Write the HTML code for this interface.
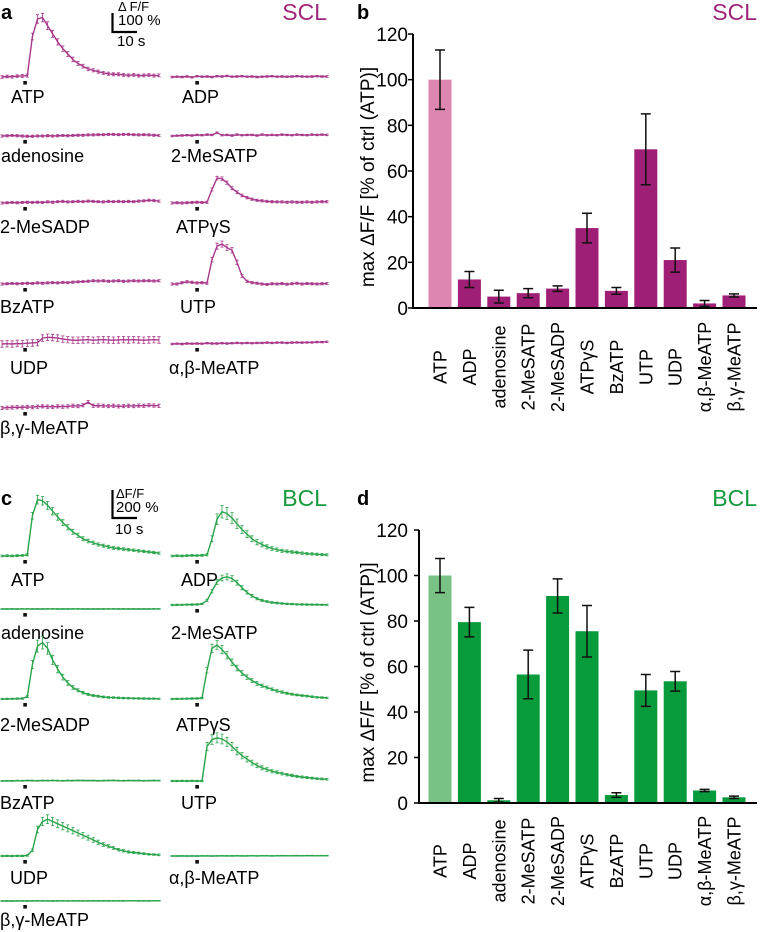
<!DOCTYPE html>
<html><head><meta charset="utf-8">
<style>
html,body{margin:0;padding:0;background:#fff;}
svg{display:block;font-family:"Liberation Sans",sans-serif;}
</style></head>
<body>
<svg id="fig" width="761" height="932" viewBox="0 0 761 932" xmlns="http://www.w3.org/2000/svg">
<!-- Panel a -->
<g>
<text x="1" y="19" font-size="20" font-weight="bold">a</text>
<text x="327" y="20" font-size="23" fill="#a0267b" text-anchor="end">SCL</text>
<g>
<path d="M112.5 13 V32 H137" stroke="#000" stroke-width="2.2" fill="none"/>
<text x="118" y="11" font-size="13">Δ F/F</text>
<text x="118" y="25" font-size="15">100 %</text>
<text x="117" y="46" font-size="15">10 s</text>
</g>
<g font-size="18">
<text x="11" y="103">ATP</text>
<text x="182" y="103">ADP</text>
<text x="1" y="162">adenosine</text>
<text x="171" y="162">2-MeSATP</text>
<text x="0" y="233">2-MeSADP</text>
<text x="176" y="233">ATPγS</text>
<text x="0" y="313">BzATP</text>
<text x="180" y="313">UTP</text>
<text x="10" y="374">UDP</text>
<text x="169" y="374">α,β-MeATP</text>
<text x="0" y="434">β,γ-MeATP</text>
</g>
<g id="tracesA"></g>
</g>
<!-- Panel c -->
<g>
<text x="1" y="505" font-size="20" font-weight="bold">c</text>
<text x="327" y="506" font-size="23" fill="#169a3e" text-anchor="end">BCL</text>
<g>
<path d="M112.5 490 V518 H137" stroke="#000" stroke-width="2.2" fill="none"/>
<text x="116" y="498" font-size="13">ΔF/F</text>
<text x="116" y="512" font-size="15">200 %</text>
<text x="115" y="534" font-size="15">10 s</text>
</g>
<g font-size="18">
<text x="11" y="586">ATP</text>
<text x="181" y="586">ADP</text>
<text x="1" y="639">adenosine</text>
<text x="171" y="639">2-MeSATP</text>
<text x="0" y="731">2-MeSADP</text>
<text x="176" y="731">ATPγS</text>
<text x="0" y="809">BzATP</text>
<text x="181" y="809">UTP</text>
<text x="10" y="884">UDP</text>
<text x="169" y="884">α,β-MeATP</text>
<text x="0" y="926">β,γ-MeATP</text>
</g>
<g id="tracesC"></g>
</g>
<!-- Panel b -->
<g>
<text x="357" y="19" font-size="20" font-weight="bold">b</text>
<text x="757" y="20" font-size="23" fill="#a0267b" text-anchor="end">SCL</text>
<g id="chartB"></g>
</g>
<!-- Panel d -->
<g>
<text x="357" y="505" font-size="20" font-weight="bold">d</text>
<text x="757" y="506" font-size="23" fill="#169a3e" text-anchor="end">BCL</text>
<g id="chartD"></g>
</g>
</svg>
<script>
// ---------- Bar chart data ----------
const categories = ["ATP","ADP","adenosine","2-MeSATP","2-MeSADP","ATPγS","BzATP","UTP","UDP","α,β-MeATP","β,γ-MeATP"];
const sclValues = [100,12.5,5,6.5,8.5,35,7.5,69.5,21,2,5.5];
const sclErrors = [13,3.5,2.8,2,1.2,6.5,1.5,15.5,5.3,1.3,0.7];
const bclValues = [100,79.5,1.2,56.5,91,75.5,3.5,49.5,53.5,5.5,2.5];
const bclErrors = [7.5,6.5,0.8,10.7,7.5,11.3,1,7,4.3,0.5,0.5];
const yTicks = [0,20,40,60,80,100,120];

// ---------- Trace data (ΔF/F, %) ----------
const aATP = [0,2,1,3,4,5,150,215,220,190,160,130,105,85,65,50,40,30,25,20,15,12,10,10,8,6,8,5,6,7,5,6];
const aADP = [0,1,0,2,-1,3,1,2,0,3,2,4,1,2,3,1,2,0,1,2,3,1,2,1,2,3,2,1,2,3,2,2];
const aAdenosine = [0,1,2,1,0,-1,-1,0,0,1,0,1,2,1,2,3,3,4,4,5,5,6,6,5,6,6,5,4,5,4,3,2];
const a2MeSATP = [0,1,2,3,2,4,3,5,4,12,3,4,2,5,3,4,4,2,5,3,4,3,5,4,3,5,4,3,5,4,5,4];
const a2MeSADP = [0,1,2,1,2,3,2,3,2,4,3,5,6,4,5,6,5,7,6,5,4,6,5,6,5,6,5,7,8,10,9,7];
const aATPgS = [0,1,0,1,2,3,2,3,50,92,90,75,55,40,28,20,14,10,8,6,5,4,4,3,4,3,3,4,3,4,5,5];
const aBzATP = [0,1,2,1,2,3,2,4,3,4,5,4,6,5,7,8,9,10,12,11,12,10,11,12,10,11,12,11,12,12,11,12];
const aUTP = [0,0,5,8,6,4,5,3,90,140,148,135,125,80,30,10,5,3,0,-2,1,0,2,-1,1,3,0,2,1,0,1,2];
const aUDP = [0,1,0,2,1,3,4,5,22,25,24,22,18,16,14,14,15,16,14,15,16,15,14,15,16,15,16,15,14,15,16,15];
const aABMeATP = [0,1,0,2,1,2,1,3,2,2,3,2,3,4,3,4,3,4,4,5,4,5,5,4,5,6,5,6,6,7,7,8];
const aBGMeATP = [0,1,2,3,2,4,3,5,6,5,4,6,5,6,8,7,10,22,8,9,8,7,8,6,7,8,7,9,8,10,9,8];
const aErr = [5,3,4,3,4,4,4,4,12,3,6];

const cATP = [0,2,1,3,5,10,350,490,480,440,390,340,290,250,210,180,150,130,115,100,90,80,70,65,60,55,50,45,40,35,30,25];
const cADP = [0,2,1,3,5,4,6,10,150,320,385,370,330,280,230,190,150,120,100,80,65,55,45,40,35,30,25,20,18,15,12,10];
const cAdenosine = [0,0,1,0,1,1,0,1,0,1,1,0,1,0,1,1,0,1,0,1,0,1,1,0,1,0,1,0,1,0,1,1];
const c2MeSATP = [0,1,2,3,4,5,10,40,120,200,235,245,230,195,150,110,80,55,40,30,22,18,14,10,8,6,5,4,3,3,2,2];
const c2MeSADP = [0,1,2,3,4,20,300,460,490,440,340,260,190,140,100,75,55,40,30,24,18,14,12,10,8,7,6,5,4,3,3,2];
const cATPgS = [0,1,2,3,4,5,8,250,440,470,430,380,320,270,225,190,160,135,115,100,85,70,60,50,42,35,30,25,20,15,12,10];
const cBzATP = [0,2,1,3,2,4,3,2,4,3,5,3,2,4,3,5,4,3,4,2,3,4,5,3,2,4,3,4,2,3,4,3];
const cUTP = [0,0,1,0,1,0,0,300,360,375,365,340,300,260,220,190,160,135,115,100,85,75,65,55,48,40,35,30,25,20,18,15];
const cUDP = [0,1,0,2,1,5,50,230,300,320,300,280,260,240,220,200,180,160,140,120,100,85,70,55,45,35,30,25,20,15,12,10];
const cABMeATP = [0,0,1,0,1,0,1,1,0,1,2,1,1,2,1,1,2,1,2,2,1,2,3,2,2,3,2,3,3,2,3,3];
const cBGMeATP = [0,1,0,1,1,0,1,2,1,1,0,1,2,1,1,2,1,1,2,1,2,1,1,2,1,2,2,1,2,1,2,2];
const cErrFrac = [0.06,0.12,0,0.08,0.1,0.07,0,0.1,0.1,0,0];

const NS = "http://www.w3.org/2000/svg";
function mk(tag, attrs, parent){const e=document.createElementNS(NS,tag);for(const k in attrs)e.setAttribute(k,attrs[k]);parent.appendChild(e);return e;}

// ---------- traces ----------
function drawTrace(parent, name, vals, x0, x1, baseY, pxPerUnit, color, errAbs, errFrac, markX){
  const g = mk("g",{},parent);
  
  
  const n = vals.length, step=(x1-x0)/(n-1);
  const xs = i => x0+i*step, ys = v => baseY - v*pxPerUnit;
  let d="";
  vals.forEach((v,i)=>{
    const e = (errAbs + errFrac*Math.abs(v))*pxPerUnit;
    const x=xs(i), y=ys(v);
    d += "M"+x.toFixed(1)+" "+(y-e).toFixed(1)+"V"+(y+e).toFixed(1)+"M"+(x-1.6).toFixed(1)+" "+(y-e).toFixed(1)+"h3.2M"+(x-1.6).toFixed(1)+" "+(y+e).toFixed(1)+"h3.2";
  });
  const eb = mk("path",{d:d,stroke:color,"stroke-width":0.8,fill:"none"},g);
  
  
  const pl = mk("polyline",{points:vals.map((v,i)=>xs(i).toFixed(1)+","+ys(v).toFixed(1)).join(" "),stroke:color,"stroke-width":1.4,fill:"none"},g);
  
  
  const m = mk("rect",{x:markX-1.7,y:baseY+4,width:3.6,height:3.6,fill:"#111"},g);
  
  
}
const PA="#a8388a", GC="#2aa44a";
const tA=document.getElementById("tracesA"), tC=document.getElementById("tracesC");
const kA=27/100, kC=0.115;
const Lx0=2,Lx1=159,Rx0=172,Rx1=327,LM=25,RM=197;
drawTrace(tA,"trace-a-atp",aATP,Lx0,Lx1,77,kA,PA,aErr[0],0.05,LM);
drawTrace(tA,"trace-a-adp",aADP,Rx0,Rx1,77,kA,PA,aErr[1],0,RM);
drawTrace(tA,"trace-a-adenosine",aAdenosine,Lx0,Lx1,136,kA,PA,aErr[2],0,LM);
drawTrace(tA,"trace-a-2mesatp",a2MeSATP,Rx0,Rx1,136,kA,PA,aErr[3],0,RM);
drawTrace(tA,"trace-a-2mesadp",a2MeSADP,Lx0,Lx1,203,kA,PA,aErr[4],0,LM);
drawTrace(tA,"trace-a-atpgs",aATPgS,Rx0,Rx1,203,kA,PA,aErr[5],0.03,RM);
drawTrace(tA,"trace-a-bzatp",aBzATP,Lx0,Lx1,284,kA,PA,aErr[6],0,LM);
drawTrace(tA,"trace-a-utp",aUTP,Rx0,Rx1,284,kA,PA,aErr[7],0.05,RM);
drawTrace(tA,"trace-a-udp",aUDP,Lx0,Lx1,344,kA,PA,aErr[8],0,LM);
drawTrace(tA,"trace-a-abmeatp",aABMeATP,Rx0,Rx1,344,kA,PA,aErr[9],0,RM);
drawTrace(tA,"trace-a-bgmeatp",aBGMeATP,Lx0,Lx1,408,kA,PA,aErr[10],0,LM);

drawTrace(tC,"trace-c-atp",cATP,Lx0,Lx1,556,kC,GC,8,cErrFrac[0],LM);
drawTrace(tC,"trace-c-adp",cADP,Rx0,Rx1,556,kC,GC,8,cErrFrac[1],RM);
drawTrace(tC,"trace-c-adenosine",cAdenosine,Lx0,Lx1,609,kC,GC,3,cErrFrac[2],LM);
drawTrace(tC,"trace-c-2mesatp",c2MeSATP,Rx0,Rx1,605,kC,GC,6,cErrFrac[3],RM);
drawTrace(tC,"trace-c-2mesadp",c2MeSADP,Lx0,Lx1,699,kC,GC,6,cErrFrac[4],LM);
drawTrace(tC,"trace-c-atpgs",cATPgS,Rx0,Rx1,699,kC,GC,6,cErrFrac[5],RM);
drawTrace(tC,"trace-c-bzatp",cBzATP,Lx0,Lx1,781,kC,GC,4,cErrFrac[6],LM);
drawTrace(tC,"trace-c-utp",cUTP,Rx0,Rx1,781,kC,GC,6,cErrFrac[7],RM);
drawTrace(tC,"trace-c-udp",cUDP,Lx0,Lx1,856,kC,GC,6,cErrFrac[8],LM);
drawTrace(tC,"trace-c-abmeatp",cABMeATP,Rx0,Rx1,856,kC,GC,3,cErrFrac[9],RM);
drawTrace(tC,"trace-c-bgmeatp",cBGMeATP,Lx0,Lx1,901,kC,GC,3,cErrFrac[10],LM);

// ---------- bar charts ----------
function drawBars(parent, pfx, vals, errs, axisX, y0, y120, labelCY, lightCol, col){
  const yScale = v => y0 - v*(y0-y120)/120;
  const xC = i => 440 + i*29.4;
  const bw=23;
  const ax = mk("path",{d:"M"+axisX+" "+y120+"V"+y0+"H757",stroke:"#000","stroke-width":2,fill:"none"},parent);
  
  
  yTicks.forEach(t=>{
    const y=yScale(t);
    const tk = mk("line",{x1:axisX-5,x2:axisX,y1:y,y2:y,stroke:"#000","stroke-width":1.5},parent);
    
    
    const tl = mk("text",{x:408,y:y+7,"font-size":19,"text-anchor":"end"},parent);
    tl.textContent=t;
    
    
  });
  const cy=(y0+y120)/2+6;
  const yt = mk("text",{x:0,y:0,"font-size":19,"text-anchor":"middle",transform:"translate(374,"+cy+") rotate(-90)"},parent);
  yt.textContent="max ΔF/F [% of ctrl (ATP)]";
  
  
  vals.forEach((v,i)=>{
    const x=xC(i), y=yScale(v);
    const r = mk("rect",{x:x-bw/2,y:y,width:bw,height:y0-1-y,fill:i===0?lightCol:col},parent);
    
    
    const yt2=yScale(v+errs[i]), yb=yScale(v-errs[i]);
    const e = mk("path",{d:"M"+x+" "+yt2+"V"+yb+"M"+(x-5)+" "+yt2+"h10M"+(x-5)+" "+yb+"h10",stroke:"#111","stroke-width":1.5,fill:"none"},parent);
    
    
    const lb = mk("text",{x:0,y:0,"font-size":18,"text-anchor":"middle",transform:"translate("+(x+6.5)+","+labelCY+") rotate(-90)"},parent);
    lb.textContent=categories[i];
    
    
  });
}
drawBars(document.getElementById("chartB"),"chart-b",sclValues,sclErrors,413,308,34,367,"#dd86b1","#a01f76");
drawBars(document.getElementById("chartD"),"chart-d",bclValues,bclErrors,419,803,530,861,"#79c286","#079b3b");
</script>
</body></html>
